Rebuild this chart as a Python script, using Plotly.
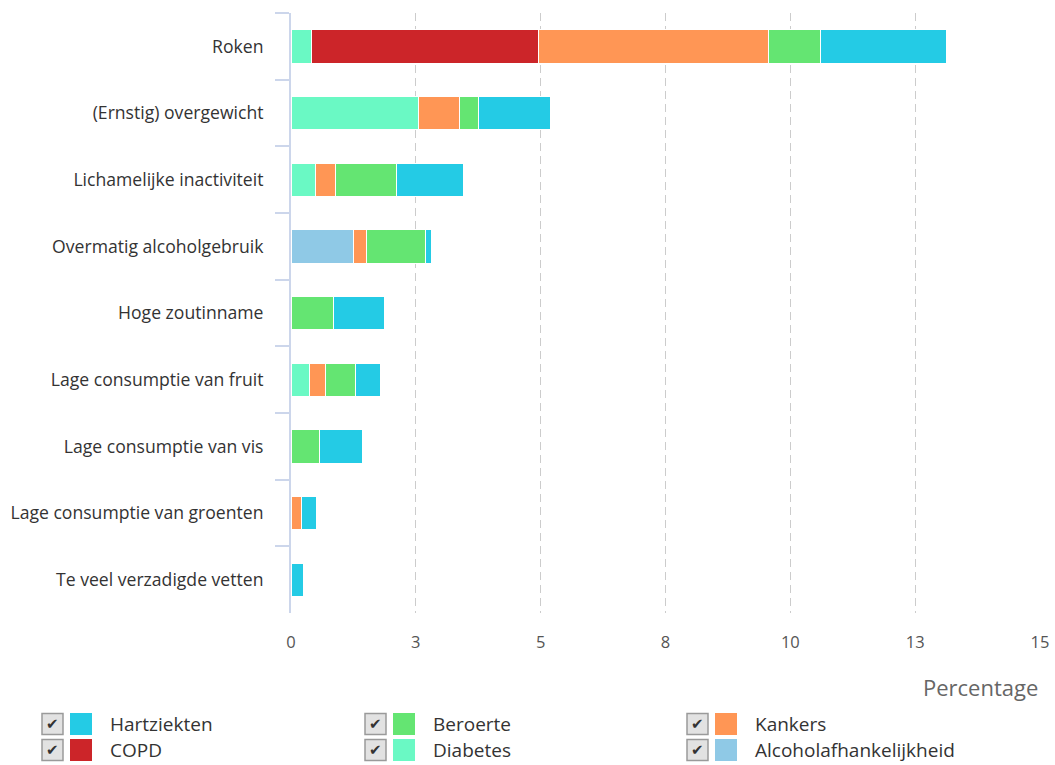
import plotly.graph_objects as go

categories = ["Roken", "(Ernstig) overgewicht", "Lichamelijke inactiviteit",
              "Overmatig alcoholgebruik", "Hoge zoutinname", "Lage consumptie van fruit",
              "Lage consumptie van vis", "Lage consumptie van groenten", "Te veel verzadigde vetten"]

hartziekten = [2.53, 1.44, 1.35, 0.11, 1.03, 0.51, 0.86, 0.29, 0.25]
beroerte = [1.03, 0.37, 1.22, 1.18, 0.85, 0.59, 0.58, None, None]
kankers = [4.62, 0.82, 0.40, 0.27, None, 0.33, None, 0.22, None]
copd = [4.53, None, None, None, None, None, None, None, None]
diabetes = [0.42, 2.56, 0.49, None, None, 0.37, None, None, None]
alcoholafh = [None, None, None, 1.25, None, None, None, None, None]

series_names = ["Hartziekten", "Beroerte", "Kankers", "COPD", "Diabetes", "Alcoholafhankelijkheid"]
series_values = [hartziekten, beroerte, kankers, copd, diabetes, alcoholafh]
series_colors = ["#24CBE5", "#64E572", "#FF9655", "#CC2529", "#6AF9C4", "#8FC9E6"]

tick_vals = [0, 2.5, 5, 7.5, 10, 12.5, 15]
tick_text = ["0", "3", "5", "8", "10", "13", "15"]

FONT = "Open Sans"
W, H = 1055, 765
L, R, T, B = 291, 15, 13, 152
PW, PH = W - L - R, H - T - B

fig = go.Figure()
# Highcharts stacks the first series at the far end, so add in reverse order
for name, vals, col in reversed(list(zip(series_names, series_values, series_colors))):
    fig.add_trace(go.Bar(
        y=categories, x=vals, name=name, orientation="h",
        marker=dict(color=col, line=dict(color="white", width=1)),
        showlegend=False, hovertemplate="%{y}: %{x}<extra>" + name + "</extra>",
    ))

fig.update_layout(
    width=W, height=H,
    margin=dict(l=L, r=R, t=T, b=B, pad=0, autoexpand=False),
    barmode="stack", bargap=0.5,
    plot_bgcolor="white", paper_bgcolor="white",
    font=dict(family=FONT, color="#333333"),
    xaxis=dict(range=[0, 15], tickvals=tick_vals, ticktext=tick_text,
               showgrid=True, gridcolor="#cccccc", griddash="8px,5px", gridwidth=1,
               zeroline=False, showline=False, ticks="outside", ticklen=14,
               tickcolor="rgba(0,0,0,0)", tickfont=dict(size=16.5, color="#555555", family=FONT),
               fixedrange=True, automargin=False),
    yaxis=dict(autorange="reversed", showline=True, linecolor="#ccd6eb", linewidth=2,
               ticks="outside", tickson="boundaries", ticklen=14, tickcolor="#ccd6eb",
               tickwidth=1.5, tickfont=dict(size=17.6, color="#333333", family=FONT),
               ticklabelstandoff=22, showgrid=False, fixedrange=True, automargin=False),
)

# axis title
fig.add_annotation(text="Percentage", xref="paper", yref="paper", x=1.0, y=(H - B - 687) / PH,
                   xanchor="right", yanchor="middle", showarrow=False,
                   font=dict(size=22, color="#666666", family=FONT))

# legend (3 columns, checkbox + swatch + label)
col_x = [42, 365, 687]
row_y = [724, 750]
def px(xp):
    return (xp - L) / PW
def py(yp):
    return (H - B - yp) / PH
for i, (name, col) in enumerate(zip(series_names, series_colors)):
    cx = col_x[i % 3]
    cy = row_y[i // 3]
    # checkbox
    fig.add_shape(type="rect", xref="paper", yref="paper",
                  x0=px(cx), x1=px(cx + 21), y0=py(cy + 10.5), y1=py(cy - 10.5),
                  fillcolor="#e2e2e2", line=dict(color="#9a9a9a", width=1.5))
    fig.add_annotation(text="✔", xref="paper", yref="paper", x=px(cx + 10.5), y=py(cy),
                       xanchor="center", yanchor="middle", showarrow=False,
                       font=dict(size=15, color="#333333", family="DejaVu Sans"))
    # swatch
    fig.add_shape(type="rect", xref="paper", yref="paper",
                  x0=px(cx + 28), x1=px(cx + 50), y0=py(cy + 11), y1=py(cy - 11),
                  fillcolor=col, line=dict(width=0))
    fig.add_annotation(text=name, xref="paper", yref="paper", x=px(cx + 66), y=py(cy),
                       xanchor="left", yanchor="middle", showarrow=False,
                       font=dict(size=19, color="#333333", family=FONT))

fig.write_html("out.html", config={"displayModeBar": False},
               post_script="document.body.style.margin='0';")
